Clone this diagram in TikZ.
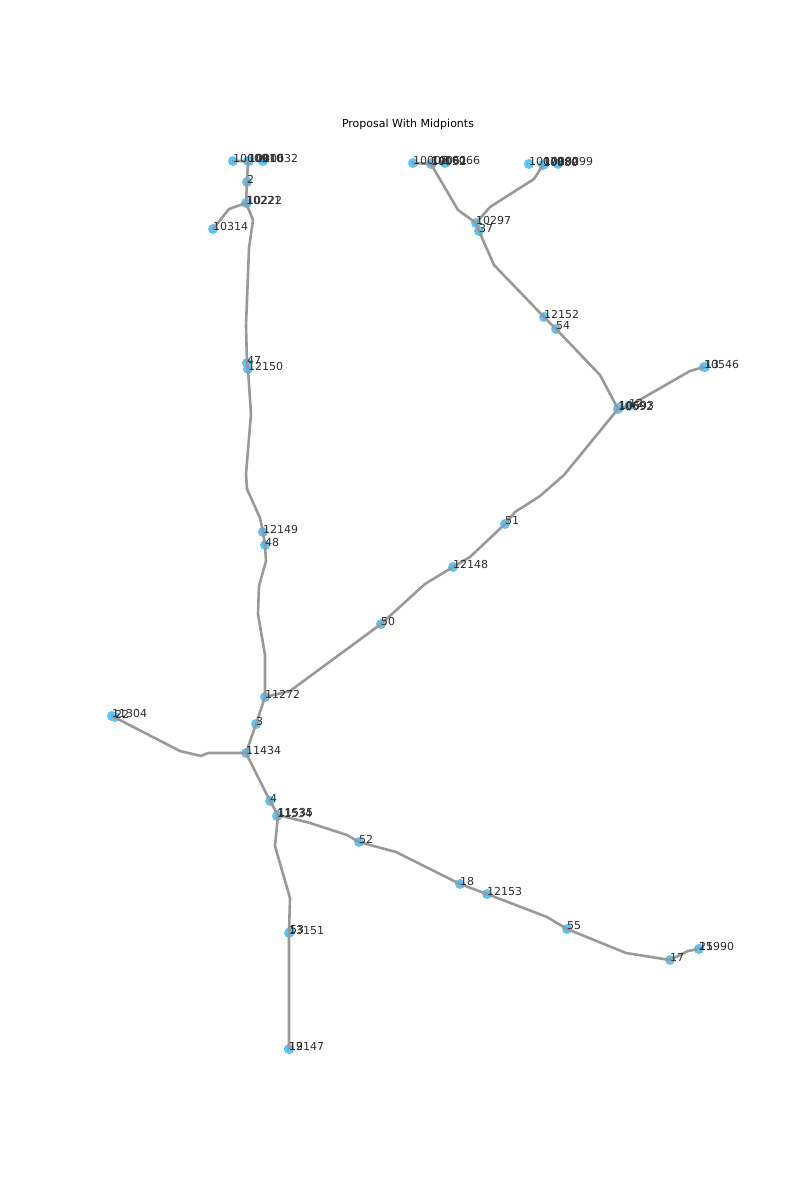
\documentclass[tikz,border=0pt]{standalone}
\usepackage{fontspec}
\setmainfont{DejaVu Sans}
\definecolor{nodeblue}{RGB}{92,196,247}
\definecolor{edgegray}{RGB}{153,153,153}
\definecolor{labelgray}{RGB}{45,45,45}
\tikzset{
  pt/.style={circle,fill=nodeblue,draw=none,minimum size=10pt,inner sep=0pt},
  lbl/.style={anchor=west,inner sep=0pt,text=labelgray,font=\fontsize{11}{13}\selectfont},
  edge/.style={draw=edgegray,line width=2.6pt,line join=round,line cap=round},
  titlestyle/.style={inner sep=0pt,font=\fontsize{11}{13}\selectfont}
}
% place a point with its label just above-right of the centre
\newcommand\pnode[3]{\node[pt] (#1) at (#2) {};}
\newcommand\plabel[2]{\node[lbl] at ([yshift=3pt]#1.center) {#2};}
\begin{document}
\begin{tikzpicture}[x=1pt,y=-1pt]
\useasboundingbox (0,0) rectangle (796,1200);
\node[titlestyle] (title) at (408,124) {Proposal With Midpionts};

% points
\pnode{a1}{233,161}{}
\pnode{a2}{248,161}{}
\pnode{a3}{249,161}{}
\pnode{a4}{263,161}{}
\pnode{n2}{247,182}{}
\pnode{b1}{246,203}{}
\pnode{b2}{247,203}{}
\pnode{n10314}{213,229}{}
\pnode{n47}{247,363}{}
\pnode{n12150}{248,369}{}
\pnode{n12149}{263,532}{}
\pnode{n48}{265,545}{}
\pnode{n11272}{265,697}{}
\pnode{n50}{381,624}{}
\pnode{n12148}{453,567}{}
\pnode{n51}{505,524}{}
\pnode{n10692}{618,409}{}
\pnode{n10693}{619,408}{}
\pnode{n12}{629,406}{}
\pnode{n10546}{704,367}{}
\pnode{n13}{705,367}{}
\pnode{n54}{556,329}{}
\pnode{n12152}{544,317}{}
\pnode{n37}{479,231}{}
\pnode{n10297}{476,223}{}
\pnode{c1}{413,163}{}
\pnode{c2}{431,164}{}
\pnode{c2b}{432,163}{}
\pnode{c3}{445,163}{}
\pnode{d1}{529,164}{}
\pnode{d2}{543,165}{}
\pnode{d2b}{544,164}{}
\pnode{d3}{558,164}{}
\pnode{n3}{256,724}{}
\pnode{n11434}{246,753}{}
\pnode{n11304}{112,716}{}
\pnode{n22}{115,717}{}
\pnode{n4}{270,801}{}
\pnode{e1}{278,815}{}
\pnode{e2}{277,816}{}
\pnode{n52}{359,842}{}
\pnode{n18}{460,884}{}
\pnode{n12153}{487,894}{}
\pnode{n55}{567,929}{}
\pnode{n17}{670,960}{}
\pnode{n15990}{699,949}{}
\pnode{n21}{699,949}{}
\pnode{n13151}{289,933}{}
\pnode{n53}{290,932}{}
\pnode{n12147}{289,1049}{}
\pnode{n19}{289,1049}{}

% connectors
\draw[edge] (a1.center) -- (a2.center) -- (n2.center) -- (b1.center);
\draw[edge] (b1.center) -- (229,209) -- (n10314.center);
\draw[edge] (b1.center) -- (253,220) -- (249,248) -- (246,326) -- (n47.center) -- (n12150.center)
  -- (251,414) -- (246,474) -- (247,489) -- (260,518) -- (n12149.center) -- (n48.center)
  -- (266,561) -- (259,586) -- (258,614) -- (265,655) -- (n11272.center);
\draw[edge] (n11272.center) -- (290,691) -- (n50.center) -- (425,584) -- (n12148.center)
  -- (470,557) -- (n51.center) -- (515,512) -- (540,496) -- (564,475) -- (n10692.center);
\draw[edge] (n10692.center) -- (n12.center) -- (690,371) -- (n10546.center);
\draw[edge] (n10692.center) -- (600,375) -- (n54.center) -- (n12152.center) -- (494,265)
  -- (n37.center) -- (n10297.center);
\draw[edge] (n10297.center) -- (458,210) -- (c2.center) -- (c1.center);
\draw[edge] (n10297.center) -- (490,207) -- (534,179) -- (d2.center);
\draw[edge] (n11272.center) -- (n3.center) -- (n11434.center);
\draw[edge] (n11434.center) -- (208,753) -- (201,756) -- (180,751) -- (n11304.center);
\draw[edge] (n11434.center) -- (n4.center) -- (e1.center);
\draw[edge] (e1.center) -- (310,823) -- (347,835) -- (n52.center) -- (396,852) -- (n18.center)
  -- (n12153.center) -- (547,917) -- (n55.center) -- (626,953) -- (n17.center) -- (688,951)
  -- (n15990.center);
\draw[edge] (e1.center) -- (275,846) -- (290,898) -- (n13151.center) -- (n12147.center);

% labels
\plabel{a1}{10009}
\plabel{a2}{10010}
\plabel{a3}{10016}
\plabel{a4}{10032}
\plabel{n2}{2}
\plabel{b1}{10221}
\plabel{b2}{10222}
\plabel{n10314}{10314}
\plabel{n47}{47}
\plabel{n12150}{12150}
\plabel{n12149}{12149}
\plabel{n48}{48}
\plabel{n11272}{11272}
\plabel{n50}{50}
\plabel{n12148}{12148}
\plabel{n51}{51}
\plabel{n12}{12}
\plabel{n10692}{10692}
\plabel{n10693}{10693}
\plabel{n10546}{10546}
\plabel{n13}{13}
\plabel{n54}{54}
\plabel{n12152}{12152}
\plabel{n37}{37}
\plabel{n10297}{10297}
\plabel{c1}{10008}
\plabel{c2}{10052}
\plabel{c2b}{10061}
\plabel{c3}{10066}
\plabel{d1}{10079}
\plabel{d2}{10080}
\plabel{d2b}{10082}
\plabel{d3}{10099}
\plabel{n3}{3}
\plabel{n11434}{11434}
\plabel{n11304}{11304}
\plabel{n22}{22}
\plabel{n4}{4}
\plabel{e1}{11535}
\plabel{e2}{11534}
\plabel{n52}{52}
\plabel{n18}{18}
\plabel{n12153}{12153}
\plabel{n55}{55}
\plabel{n17}{17}
\plabel{n15990}{15990}
\plabel{n21}{21}
\plabel{n13151}{13151}
\plabel{n53}{53}
\plabel{n12147}{12147}
\plabel{n19}{19}
\end{tikzpicture}
\end{document}
